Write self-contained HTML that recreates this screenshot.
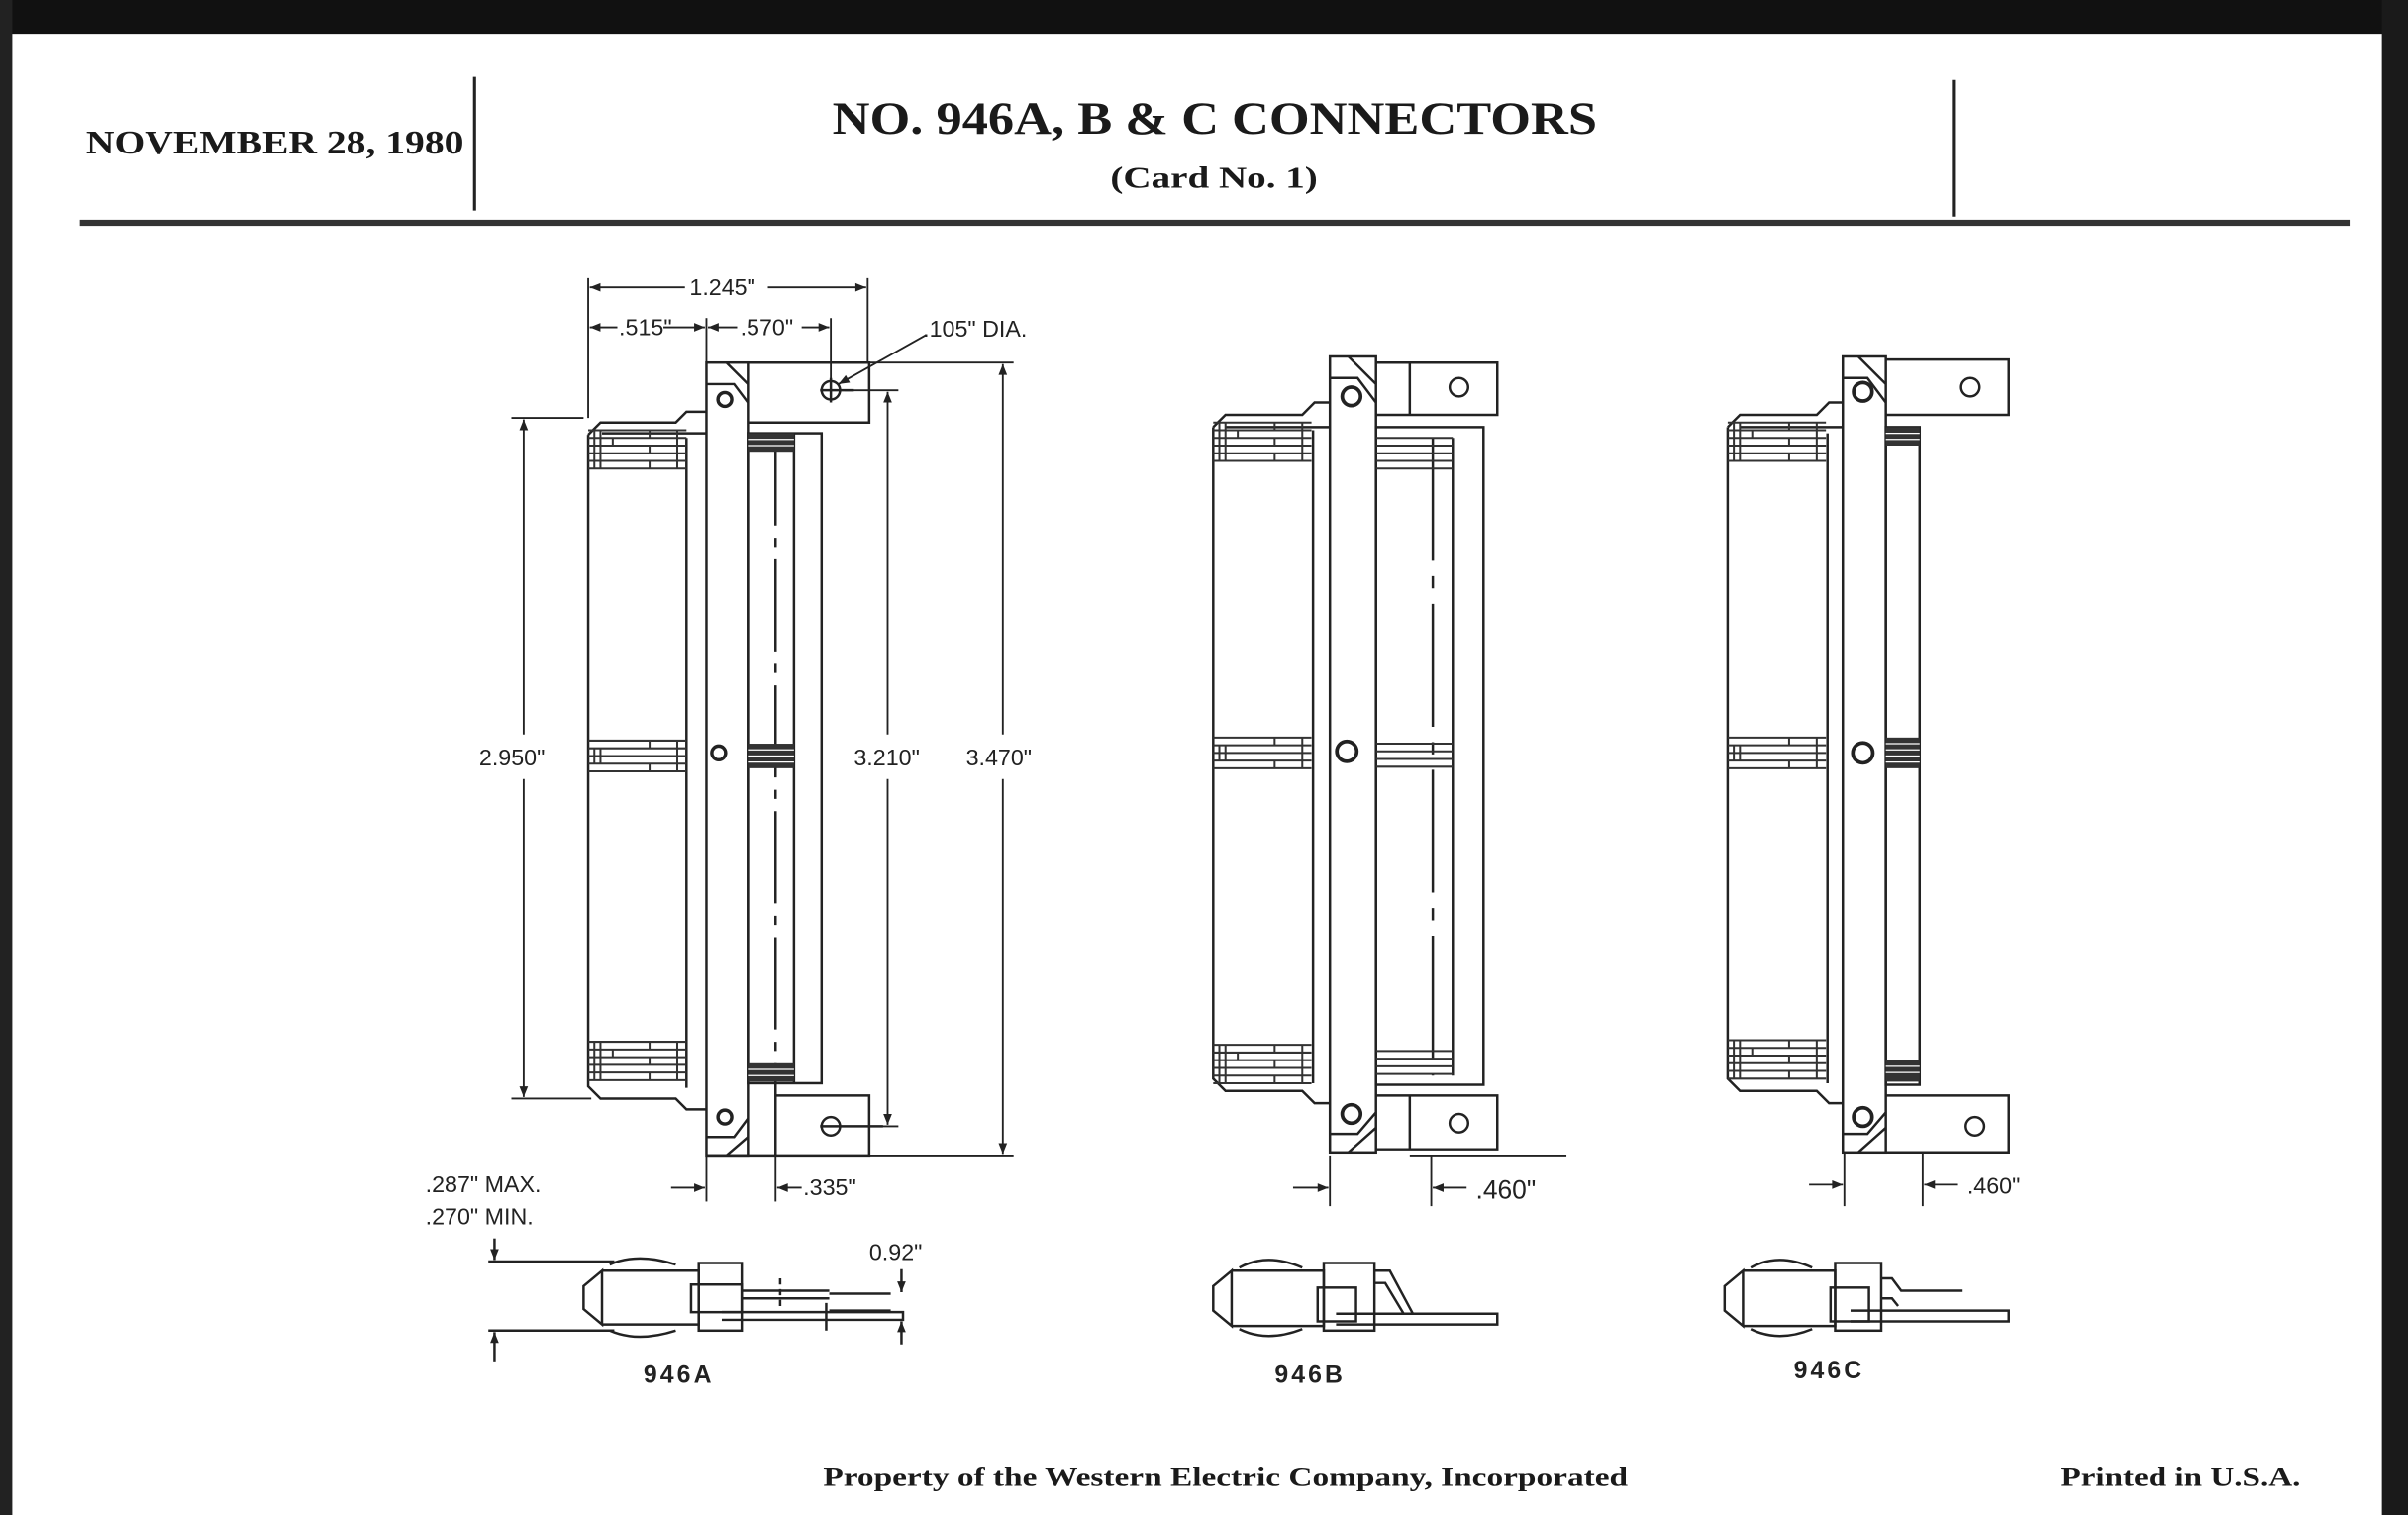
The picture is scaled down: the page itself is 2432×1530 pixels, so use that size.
<!DOCTYPE html>
<html><head><meta charset="utf-8"><style>
html,body{margin:0;padding:0;background:#fff}
svg{display:block}
.t{font-family:"Liberation Sans",sans-serif;fill:#222}
.s{font-family:"Liberation Serif",serif;font-weight:bold;fill:#1a1a1a}
</style></head><body>
<svg width="2432" height="1530" viewBox="0 0 1568 986" preserveAspectRatio="none" xmlns="http://www.w3.org/2000/svg">
<defs>
<marker id="a" viewBox="0 0 10 10" refX="10" refY="5" markerWidth="10" markerHeight="7" orient="auto-start-reverse" markerUnits="userSpaceOnUse"><path d="M0,1 L10,5 L0,9 z" fill="#222"/></marker>
<g id="ls">
<path d="M0,0H64M0,5H64M0,10H64M0,15H64M0,20H64M0,25H64M4,0V25M8,0V25M16,5V10M40,0V5M40,10V15M40,20V25M58,0V25" stroke="#333" stroke-width="1.3" fill="none"/>
</g>
<g id="ms">
<path d="M0,0H64M0,5H64M0,10H64M0,15H64M0,20H64M4,5V15M8,5V15M40,0V5M40,15V20M58,0V20" stroke="#333" stroke-width="1.3" fill="none"/>
</g>
</defs>
<rect width="1568" height="986" fill="#fff"/>
<rect x="0" y="0" width="1568" height="22" fill="#111"/>
<rect x="0" y="0" width="8" height="986" fill="#222"/>
<rect x="1551" y="0" width="17" height="986" fill="#1a1a1a"/>

<!-- header -->
<text class="s" x="56" y="100" font-size="22" textLength="246" lengthAdjust="spacingAndGlyphs">NOVEMBER 28, 1980</text>
<line x1="309" y1="50" x2="309" y2="137" stroke="#222" stroke-width="2"/>
<text class="s" x="542" y="87" font-size="30" textLength="498" lengthAdjust="spacingAndGlyphs">NO. 946A, B &amp; C CONNECTORS</text>
<text class="s" x="723" y="122" font-size="20" font-weight="normal" textLength="135" lengthAdjust="spacingAndGlyphs">(Card No. 1)</text>
<line x1="1272" y1="52" x2="1272" y2="141" stroke="#222" stroke-width="2"/>
<rect x="52" y="143" width="1478" height="4" fill="#333"/>

<g stroke="#222" stroke-width="1.6" fill="none">
<!-- ===== 946A ===== -->
<path d="M383,283 L391,275 L440,275 L447,268 L460,268"/>
<path d="M383,283 V707 L391,715 L440,715 L447,722 L460,722"/>
<line x1="447" y1="285" x2="447" y2="708"/>
<line x1="392" y1="282" x2="460" y2="282"/>
<rect x="460" y="236" width="27" height="516"/>
<path d="M460,250 H478 L487,262 M473,236 L487,250"/>
<path d="M460,740 H478 L487,728 M473,752 L487,740"/>
<path d="M487,236 H566 V275 H487"/>
<path d="M505,713 H566 V752 H460"/>
<rect x="487" y="282" width="48" height="423"/>
<line x1="517" y1="282" x2="517" y2="705"/>
<line x1="505" y1="282" x2="505" y2="760" stroke-dasharray="60,8,6,8"/>
<circle cx="472" cy="260" r="4.5" stroke-width="2.2"/>
<circle cx="468" cy="490" r="4.5" stroke-width="2.2"/>
<circle cx="472" cy="727" r="4.5" stroke-width="2.2"/>
<circle cx="541" cy="254" r="6"/>
<path d="M534,254 H556 M541,246 V262"/>
<circle cx="541" cy="733" r="6"/>
<line x1="534" y1="733" x2="575" y2="733"/>

<!-- dims 946A -->
<line x1="383" y1="181" x2="383" y2="272" stroke-width="1.2"/>
<line x1="565" y1="181" x2="565" y2="236" stroke-width="1.2"/>
<line x1="460" y1="207" x2="460" y2="236" stroke-width="1.2"/>
<line x1="541" y1="207" x2="541" y2="260" stroke-width="1.2"/>
<line x1="384" y1="187" x2="446" y2="187" stroke-width="1.2" marker-start="url(#a)"/>
<line x1="500" y1="187" x2="564" y2="187" stroke-width="1.2" marker-end="url(#a)"/>
<line x1="384" y1="213" x2="402" y2="213" stroke-width="1.2" marker-start="url(#a)"/>
<line x1="432" y1="213" x2="459" y2="213" stroke-width="1.2" marker-end="url(#a)"/>
<line x1="461" y1="213" x2="480" y2="213" stroke-width="1.2" marker-start="url(#a)"/>
<line x1="522" y1="213" x2="540" y2="213" stroke-width="1.2" marker-end="url(#a)"/>
<line x1="603" y1="218" x2="546" y2="250" stroke-width="1.2" marker-end="url(#a)"/>
<line x1="566" y1="236" x2="660" y2="236" stroke-width="1.2"/>
<line x1="566" y1="752" x2="660" y2="752" stroke-width="1.2"/>
<line x1="653" y1="237" x2="653" y2="478" stroke-width="1.2" marker-start="url(#a)"/>
<line x1="653" y1="507" x2="653" y2="751" stroke-width="1.2" marker-end="url(#a)"/>
<line x1="550" y1="254" x2="585" y2="254" stroke-width="1.2"/>
<line x1="566" y1="733" x2="585" y2="733" stroke-width="1.2"/>
<line x1="578" y1="255" x2="578" y2="478" stroke-width="1.2" marker-start="url(#a)"/>
<line x1="578" y1="507" x2="578" y2="732" stroke-width="1.2" marker-end="url(#a)"/>
<line x1="333" y1="272" x2="380" y2="272" stroke-width="1.2"/>
<line x1="333" y1="715" x2="385" y2="715" stroke-width="1.2"/>
<line x1="341" y1="273" x2="341" y2="478" stroke-width="1.2" marker-start="url(#a)"/>
<line x1="341" y1="507" x2="341" y2="714" stroke-width="1.2" marker-end="url(#a)"/>
<line x1="460" y1="752" x2="460" y2="782" stroke-width="1.2"/>
<line x1="505" y1="752" x2="505" y2="782" stroke-width="1.2"/>
<line x1="437" y1="773" x2="459" y2="773" stroke-width="1.2" marker-end="url(#a)"/>
<line x1="522" y1="773" x2="506" y2="773" stroke-width="1.2" marker-end="url(#a)"/>

<!-- ===== 946B ===== -->
<path d="M790,278 L798,270 L848,270 L856,262 L866,262"/>
<path d="M790,278 V702 L798,710 L848,710 L856,718 L866,718"/>
<line x1="855" y1="280" x2="855" y2="705"/>
<line x1="798" y1="278" x2="866" y2="278"/>
<rect x="866" y="232" width="30" height="518"/>
<path d="M866,246 H884 L896,262 M878,232 L896,250"/>
<path d="M866,738 H884 L896,724 M878,750 L896,734"/>
<path d="M896,236 H975 V270 H896 M918,236 V270"/>
<path d="M896,713 H975 V748 H896 M918,713 V748"/>
<line x1="918" y1="752" x2="1020" y2="752" stroke-width="1.2"/>
<rect x="896" y="278" width="70" height="428"/>
<line x1="946" y1="285" x2="946" y2="700"/>
<line x1="933" y1="285" x2="933" y2="700" stroke-dasharray="80,10,8,10"/>
<circle cx="880" cy="258" r="6" stroke-width="2.4"/>
<circle cx="877" cy="489" r="6.5" stroke-width="2.4"/>
<circle cx="880" cy="725" r="6" stroke-width="2.4"/>
<circle cx="950" cy="252" r="6"/>
<circle cx="950" cy="731" r="6"/>
<line x1="866" y1="752" x2="866" y2="785" stroke-width="1.2"/>
<line x1="932" y1="752" x2="932" y2="785" stroke-width="1.2"/>
<line x1="842" y1="773" x2="865" y2="773" stroke-width="1.2" marker-end="url(#a)"/>
<line x1="955" y1="773" x2="933" y2="773" stroke-width="1.2" marker-end="url(#a)"/>

<!-- ===== 946C ===== -->
<path d="M1125,278 L1133,270 L1183,270 L1191,262 L1200,262"/>
<path d="M1125,278 V702 L1133,710 L1183,710 L1191,718 L1200,718"/>
<line x1="1190" y1="282" x2="1190" y2="705"/>
<line x1="1133" y1="278" x2="1200" y2="278"/>
<rect x="1200" y="232" width="28" height="518"/>
<path d="M1200,246 H1216 L1228,262 M1210,232 L1228,250"/>
<path d="M1200,738 H1216 L1228,724 M1210,750 L1228,734"/>
<path d="M1228,234 H1308 V270 H1228"/>
<path d="M1228,713 H1308 V750 H1228"/>
<rect x="1228" y="278" width="22" height="428"/>
<circle cx="1213" cy="255" r="6" stroke-width="2.4"/>
<circle cx="1213" cy="490" r="6.5" stroke-width="2.4"/>
<circle cx="1213" cy="727" r="6" stroke-width="2.4"/>
<circle cx="1283" cy="252" r="6"/>
<circle cx="1286" cy="733" r="6"/>
<line x1="1201" y1="750" x2="1201" y2="785" stroke-width="1.2"/>
<line x1="1252" y1="750" x2="1252" y2="785" stroke-width="1.2"/>
<line x1="1178" y1="771" x2="1200" y2="771" stroke-width="1.2" marker-end="url(#a)"/>
<line x1="1275" y1="771" x2="1253" y2="771" stroke-width="1.2" marker-end="url(#a)"/>
</g>

<!-- stripes -->
<use href="#ls" x="383" y="280"/>
<use href="#ms" x="383" y="482"/>
<use href="#ls" x="383" y="678"/>
<use href="#ls" x="790" y="275"/>
<use href="#ms" x="790" y="480"/>
<use href="#ls" x="790" y="680"/>
<use href="#ls" x="1125" y="275"/>
<use href="#ms" x="1125" y="480"/>
<use href="#ls" x="1125" y="677"/>
<g stroke="#333" stroke-width="1.3">
<path d="M896,285H946M896,290H946M896,295H946M896,300H946M896,305H946M896,484H946M896,489H946M896,494H946M896,499H946M896,684H946M896,689H946M896,694H946M896,699H946"/>
</g>
<g fill="#333">
<rect x="487" y="282" width="30" height="12"/>
<rect x="487" y="484" width="30" height="16"/>
<rect x="487" y="692" width="30" height="12"/>
<rect x="1228" y="278" width="22" height="12"/>
<rect x="1228" y="480" width="22" height="20"/>
<rect x="1228" y="690" width="22" height="14"/>
</g>
<g stroke="#fff" stroke-width="0.8">
<path d="M487,286H517M487,290H517M487,488H517M487,492H517M487,496H517M487,696H517M487,700H517M1228,282H1250M1228,286H1250M1228,484H1250M1228,488H1250M1228,492H1250M1228,496H1250M1228,694H1250M1228,698H1250"/>
</g>

<!-- side views -->
<g stroke="#222" stroke-width="1.6" fill="none">
<!-- A -->
<path d="M318,821 H400 M318,866 H400"/>
<path d="M392,827 L380,837 V852 L392,862 Z"/>
<path d="M392,827 H455 V862 H392"/>
<path d="M397,823 Q415,815 440,823 M397,866 Q415,874 440,866"/>
<rect x="455" y="822" width="28" height="44"/>
<rect x="450" y="836" width="33" height="18"/>
<path d="M483,840 H540 M483,845 H540"/>
<path d="M470,854 H588 V859 H470"/>
<path d="M540,853 H580 M540,842 H580"/>
<line x1="508" y1="832" x2="508" y2="850" stroke-dasharray="4,3"/>
<line x1="538" y1="848" x2="538" y2="866"/>
<line x1="322" y1="806" x2="322" y2="820" marker-end="url(#a)"/>
<line x1="322" y1="886" x2="322" y2="867" marker-end="url(#a)"/>
<line x1="587" y1="826" x2="587" y2="841" marker-end="url(#a)"/>
<line x1="587" y1="875" x2="587" y2="860" marker-end="url(#a)"/>
<!-- B -->
<path d="M802,827 L790,837 V853 L802,863 Z"/>
<path d="M802,827 H862 V863 H802"/>
<path d="M807,825 Q825,815 848,825 M807,865 Q825,874 848,865"/>
<rect x="862" y="822" width="33" height="44"/>
<rect x="858" y="838" width="25" height="22"/>
<path d="M895,827 L905,827 L920,855 M895,835 L902,835 L914,855"/>
<path d="M870,855 H975 V862 H870"/>
<!-- C -->
<path d="M1135,827 L1123,837 V853 L1135,863 Z"/>
<path d="M1135,827 H1195 V863 H1135"/>
<path d="M1140,825 Q1158,815 1180,825 M1140,865 Q1158,874 1180,865"/>
<rect x="1195" y="822" width="30" height="44"/>
<rect x="1192" y="838" width="25" height="22"/>
<path d="M1225,832 H1232 L1238,840 H1278 M1225,845 H1232 L1236,850"/>
<path d="M1205,853 H1308 V860 H1205"/>
</g>

<!-- dim labels -->
<g class="t" font-size="15">
<text x="449" y="192">1.245"</text>
<text x="403" y="218">.515"</text>
<text x="482" y="218">.570"</text>
<text x="601" y="219">.105" DIA.</text>
<text x="312" y="498">2.950"</text>
<text x="556" y="498">3.210"</text>
<text x="629" y="498">3.470"</text>
<text x="523" y="778">.335"</text>
<text x="277" y="776">.287" MAX.</text>
<text x="277" y="797">.270" MIN.</text>
<text x="566" y="820">0.92"</text>
<text x="961" y="780" font-size="17">.460"</text>
<text x="1281" y="777" font-size="15">.460"</text>
<text x="419" y="900" font-size="16" font-weight="bold" letter-spacing="2">946A</text>
<text x="830" y="900" font-size="16" font-weight="bold" letter-spacing="2">946B</text>
<text x="1168" y="897" font-size="16" font-weight="bold" letter-spacing="2">946C</text>
</g>

<!-- footer -->
<text class="s" x="536" y="967" font-size="17" textLength="524" lengthAdjust="spacingAndGlyphs">Property of the Western Electric Company, Incorporated</text>
<text class="s" x="1342" y="967" font-size="17" textLength="156" lengthAdjust="spacingAndGlyphs">Printed in U.S.A.</text>
</svg>
</body></html>
